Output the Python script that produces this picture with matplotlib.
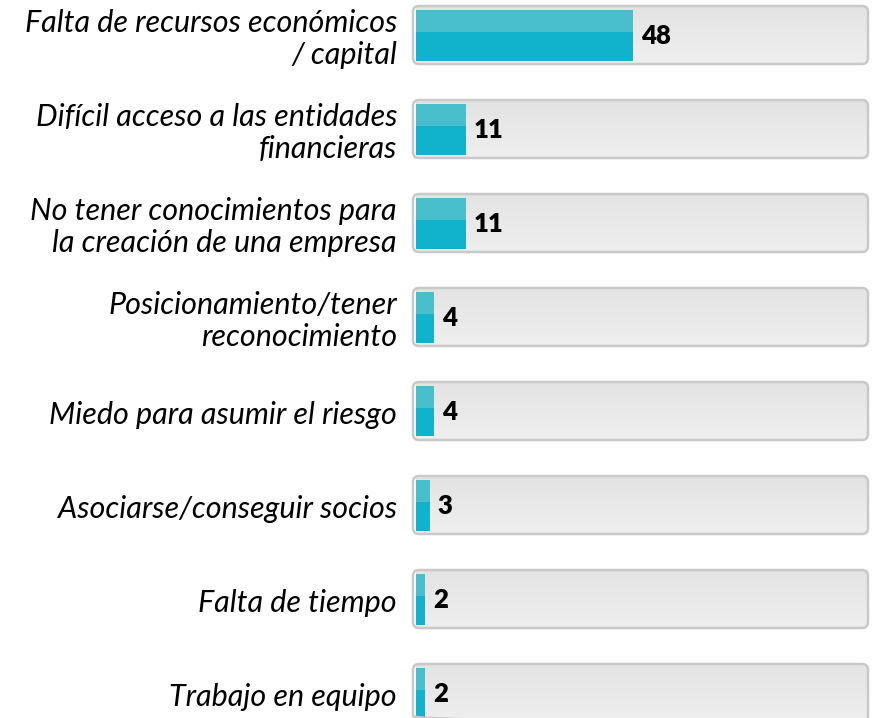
import matplotlib.pyplot as plt
import numpy as np
from matplotlib.patches import FancyBboxPatch, Rectangle

# Barriers to starting a business (percent of respondents)
categories = [
    "Falta de recursos económicos\n/ capital",
    "Difícil acceso a las entidades\nfinancieras",
    "No tener conocimientos para\nla creación de una empresa",
    "Posicionamiento/tener\nreconocimiento",
    "Miedo para asumir el riesgo",
    "Asociarse/conseguir socios",
    "Falta de tiempo",
    "Trabajo en equipo",
]
values = [48, 11, 11, 4, 4, 3, 2, 2]
track_max = 100

W, H = 873, 718
fig = plt.figure(figsize=(W / 100, H / 100), dpi=100)
fig.patch.set_facecolor("white")

# axes spans the track area; rows are 94 px apart
left_px, right_px = 416, 868
row_px, first_px = 94, 35
ax = fig.add_axes([left_px / W, 0, (right_px - left_px) / W, 1])
ax.set_xlim(0, track_max)
ax.set_ylim((H - first_px) / row_px, -first_px / row_px)
ax.axis("off")

px_x = track_max / (right_px - left_px)   # data units per px (x)
px_y = 1 / row_px                          # data units per px (y)
aspect = px_y / px_x

box_h = 58 * px_y
bar_h = 51 * px_y
grad = np.linspace(0, 1, 64).reshape(-1, 1)
trk_cmap = plt.matplotlib.colors.LinearSegmentedColormap.from_list(
    "trk", ["#e4e3e4", "#efefef"])

for i, (label, v) in enumerate(zip(categories, values)):
    # grey rounded track with a soft vertical gradient
    track = FancyBboxPatch((-3 * px_x, i - box_h / 2), track_max + 3 * px_x, box_h,
                           boxstyle=f"round,pad=0,rounding_size={6 * px_x}",
                           mutation_aspect=aspect, facecolor="none",
                           edgecolor="#c9c9c9", linewidth=1.8, zorder=3,
                           clip_on=False)
    ax.add_patch(track)
    img = ax.imshow(grad, cmap=trk_cmap, aspect="auto",
                    extent=(-3 * px_x, track_max, i + box_h / 2, i - box_h / 2),
                    zorder=1)
    img.set_clip_path(track)

    # two-tone value bar
    y0 = i - bar_h / 2
    top = Rectangle((0, y0), v, bar_h * 0.45, facecolor="#49bfce",
                    edgecolor="none", zorder=2)
    bot = Rectangle((0, y0 + bar_h * 0.45), v, bar_h * 0.55, facecolor="#10b3cb",
                    edgecolor="none", zorder=2)
    for r in (top, bot):
        ax.add_patch(r)
        r.set_clip_path(track)

    ax.text(v + 8 * px_x, i + 1 * px_y, str(v), ha="left", va="center",
            fontsize=18.5, fontweight="heavy", family="Lato", color="black",
            zorder=4)

    ax.text(-19 * px_x, i + 4 * px_y, label, ha="right",
            va="center", multialignment="right", fontsize=22, style="italic",
            family="Lato", color="black", linespacing=1.15, clip_on=False)

fig.savefig("out.png", dpi=100, facecolor="white")
